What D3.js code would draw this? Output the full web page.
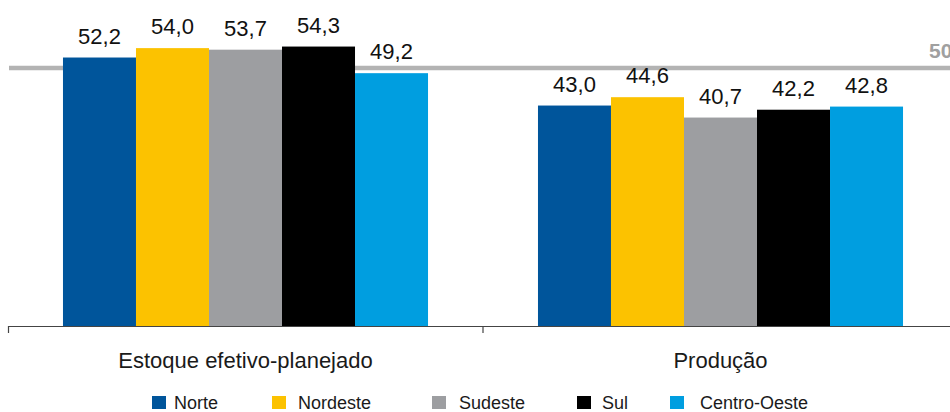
<!DOCTYPE html>
<html>
<head>
<meta charset="utf-8">
<script src="https://cdn.jsdelivr.net/npm/d3@7"></script>
<style>
  html, body { margin: 0; padding: 0; background: #fff; }
  svg { display: block; font-family: "Liberation Sans", Arial, Helvetica, sans-serif; }
</style>
</head>
<body>
<svg id="chart" width="950" height="412"></svg>
<script>
// ---- data ----
const categories = ["Estoque efetivo-planejado", "Produção"];
const seriesNames = ["Norte", "Nordeste", "Sudeste", "Sul", "Centro-Oeste"];
const seriesColors = ["#00559b", "#fcc200", "#9d9ea1", "#000000", "#009ee0"];
const valuesNorte = [52.2, 43.0];
const valuesNordeste = [54.0, 44.6];
const valuesSudeste = [53.7, 40.7];
const valuesSul = [54.3, 42.2];
const valuesCentroOeste = [49.2, 42.8];
const referenceValue = 50;
const referenceLabel = "50";

const seriesValues = [valuesNorte, valuesNordeste, valuesSudeste, valuesSul, valuesCentroOeste];
const fmt = v => d3.format(".1f")(v).replace(".", ",");

// ---- layout ----
const svg = d3.select("#chart");
const baseY = 326;
const x0 = d3.scaleBand().domain(categories).range([8, 958]).paddingInner(0).paddingOuter(0);
const x1 = d3.scaleBand().domain(seriesNames).range([0, x0.bandwidth()]).paddingInner(0).paddingOuter(0.753);
const y = d3.scaleLinear().domain([0, 60]).range([330, 16.8]);

// reference line
svg.append("line")
  .attr("x1", 9).attr("x2", 950)
  .attr("y1", y(referenceValue) - 1).attr("y2", y(referenceValue) - 1)
  .attr("stroke", "#b3b3b3").attr("stroke-width", 4.5);
svg.append("text")
  .attr("x", 929).attr("y", 58)
  .attr("font-size", 21).attr("font-weight", "bold")
  .attr("fill", "#a0a0a0")
  .text(referenceLabel);

// bars
const groups = svg.selectAll("g.grp").data(categories).join("g")
  .attr("class", "grp")
  .attr("transform", d => `translate(${x0(d)},0)`);

groups.each(function(cat, ci) {
  const g = d3.select(this);
  seriesNames.forEach((s, si) => {
    const v = seriesValues[si][ci];
    g.append("rect")
      .attr("x", x1(s))
      .attr("y", y(v))
      .attr("width", x1.bandwidth())
      .attr("height", baseY - y(v))
      .attr("fill", seriesColors[si]);
    g.append("text")
      .attr("x", x1(s) + x1.bandwidth() / 2)
      .attr("y", y(v) - 14)
      .attr("text-anchor", "middle")
      .attr("font-size", 22)
      .attr("fill", "#111")
      .text(fmt(v));
  });
});

// axis
const axis = svg.append("g")
  .attr("transform", `translate(0,${baseY})`)
  .call(d3.axisBottom(x0).tickSize(0).tickSizeOuter(7).tickPadding(26.5));
axis.select(".domain").attr("stroke", "#444").attr("stroke-width", 1.2);
axis.selectAll(".tick text")
  .attr("font-size", 22)
  .attr("fill", "#1a1a1a")
  .attr("font-family", "\"Liberation Sans\", Arial, sans-serif");
// inner category boundary ticks
axis.selectAll("line.sep").data(categories.slice(1)).join("line")
  .attr("class", "sep")
  .attr("x1", d => x0(d)).attr("x2", d => x0(d))
  .attr("y1", 0).attr("y2", 7)
  .attr("stroke", "#444").attr("stroke-width", 1.2);

// legend
const legendSquareX = [152, 272, 432, 577, 670];
const legendTextGap = [22, 26, 27, 25, 30];
const legend = svg.append("g");
seriesNames.forEach((s, i) => {
  legend.append("rect")
    .attr("x", legendSquareX[i]).attr("y", 396)
    .attr("width", 14).attr("height", 13)
    .attr("fill", seriesColors[i]);
  legend.append("text")
    .attr("x", legendSquareX[i] + legendTextGap[i]).attr("y", 408.5)
    .attr("font-size", 18)
    .attr("fill", "#1a1a1a")
    .text(s);
});
</script>
</body>
</html>
